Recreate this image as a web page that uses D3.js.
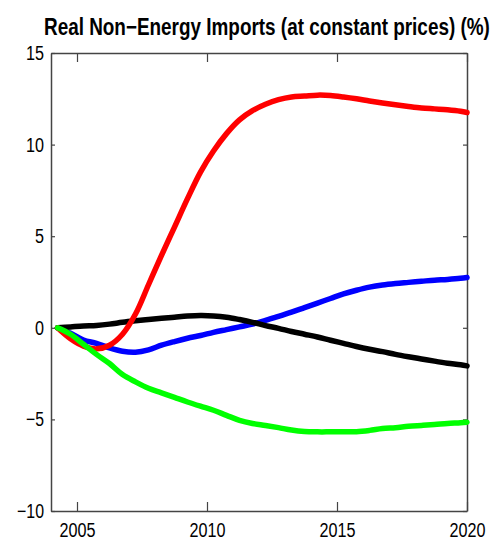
<!DOCTYPE html>
<html>
<head>
<meta charset="utf-8">
<script src="https://cdn.jsdelivr.net/npm/d3@7"></script>
<style>
  body { margin: 0; background: #fff; }
  svg { display: block; font-family: "Liberation Sans Narrow", "Liberation Sans", Arial, sans-serif; }
</style>
</head>
<body>
<div id="chart"></div>
<script>
// half-year sample points
const years = [2004.25, 2004.75, 2005.25, 2005.75, 2006.25, 2006.75, 2007.25, 2007.75,
  2008.25, 2008.75, 2009.25, 2009.75, 2010.25, 2010.75, 2011.25, 2011.75,
  2012.25, 2012.75, 2013.25, 2013.75, 2014.25, 2014.75, 2015.25, 2015.75,
  2016.25, 2016.75, 2017.25, 2017.75, 2018.25, 2018.75, 2019.25, 2019.75, 2020];

const redVals = [0, -0.6, -1.0, -1.15, -0.95, -0.35, 0.75, 2.35,
  3.95, 5.5, 7.05, 8.5, 9.65, 10.6, 11.35, 11.85,
  12.2, 12.45, 12.6, 12.65, 12.7, 12.68, 12.6, 12.5,
  12.38, 12.27, 12.17, 12.08, 12.0, 11.95, 11.9, 11.82, 11.75];

const blueVals = [0, -0.3, -0.67, -0.85, -1.1, -1.28, -1.33, -1.2,
  -0.95, -0.75, -0.57, -0.42, -0.25, -0.1, 0.05, 0.2,
  0.4, 0.62, 0.85, 1.1, 1.35, 1.6, 1.85, 2.05,
  2.22, 2.34, 2.42, 2.48, 2.54, 2.6, 2.64, 2.7, 2.75];

const blackVals = [0, 0.05, 0.1, 0.13, 0.2, 0.3, 0.38, 0.45,
  0.52, 0.58, 0.64, 0.67, 0.65, 0.58, 0.45, 0.3,
  0.12, -0.03, -0.2, -0.35, -0.5, -0.68, -0.85, -1.02,
  -1.17, -1.3, -1.45, -1.58, -1.7, -1.82, -1.93, -2.02, -2.08];

const greenVals = [0, -0.35, -0.9, -1.45, -1.95, -2.55, -2.95, -3.3,
  -3.55, -3.8, -4.05, -4.28, -4.5, -4.78, -5.05, -5.22,
  -5.33, -5.45, -5.58, -5.66, -5.68, -5.68, -5.68, -5.67,
  -5.6, -5.5, -5.45, -5.38, -5.33, -5.28, -5.22, -5.18, -5.15];

const xTicks = [2005, 2010, 2015, 2020];
const yTicks = [-10, -5, 0, 5, 10, 15];

const series = [
  { name: "blue", color: "#0000ff", values: blueVals },
  { name: "black", color: "#000000", values: blackVals },
  { name: "red", color: "#ff0000", values: redVals },
  { name: "green", color: "#00ff00", values: greenVals }
];

const W = 496, H = 546;
const margin = { top: 53, right: 29, bottom: 35, left: 51 },
    width = W - margin.left - margin.right,
    height = H - margin.top - margin.bottom;

const svg = d3.select("#chart")
    .append("svg")
    .attr("width", W)
    .attr("height", H);

// title, squeezed horizontally to fit like the original
const title = svg.append("text")
    .style("font-size", "23px")
    .style("font-weight", "bold")
    .style("fill", "#000")
    .text("Real Non\u2212Energy Imports (at constant prices) (%)");
const titleW = title.node().getComputedTextLength();
title.attr("transform", `translate(44, 35) scale(${Math.min(1, 446 / titleW)}, 1)`);

const g = svg.append("g")
    .attr("transform", `translate(${margin.left}, ${margin.top})`);

const x = d3.scaleLinear().domain([2004, 2020]).range([0, width]);
const y = d3.scaleLinear().domain([-10, 15]).range([height, 0]);

const fmt = d => d < 0 ? "\u2212" + Math.abs(d) : String(d);

// axes, ticks pointing inward
const axisStyle = sel => {
  sel.attr("font-family", null).attr("font-size", null);
  sel.select(".domain").attr("stroke", "#444").attr("stroke-width", 1.5);
  sel.selectAll(".tick line").attr("stroke", "#444").attr("stroke-width", 1.2);
};

// narrow digits: about 9px per character
const squeeze = sel => sel
    .style("font-size", "20px")
    .style("fill", "#000")
    .attr("textLength", function () { return this.textContent.length * 9; })
    .attr("lengthAdjust", "spacingAndGlyphs");

g.append("g")
    .attr("transform", `translate(0, ${height})`)
    .call(d3.axisBottom(x).tickValues(xTicks).tickSizeInner(-9).tickSizeOuter(0).tickPadding(12).tickFormat(d3.format("d")))
    .call(axisStyle)
    .selectAll("text")
    .call(squeeze);

g.append("g")
    .call(d3.axisTop(x).tickValues(xTicks).tickSizeInner(-9).tickSizeOuter(0).tickFormat(""))
    .call(axisStyle);

g.append("g")
    .call(d3.axisLeft(y).tickValues(yTicks).tickSizeInner(-4).tickSizeOuter(0).tickPadding(7).tickFormat(fmt))
    .call(axisStyle)
    .selectAll("text")
    .call(squeeze);

g.append("g")
    .attr("transform", `translate(${width}, 0)`)
    .call(d3.axisRight(y).tickValues(yTicks).tickSizeInner(-4).tickSizeOuter(0).tickFormat(""))
    .call(axisStyle);

// lines
const line = d3.line()
    .x((d, i) => x(years[i]))
    .y(d => y(d))
    .curve(d3.curveCatmullRom);

g.selectAll("path.series")
    .data(series)
    .enter()
    .append("path")
    .attr("class", "series")
    .attr("fill", "none")
    .attr("stroke", d => d.color)
    .attr("stroke-width", 5.5)
    .attr("stroke-linejoin", "round")
    .attr("stroke-linecap", "round")
    .attr("d", d => line(d.values));
</script>
</body>
</html>
